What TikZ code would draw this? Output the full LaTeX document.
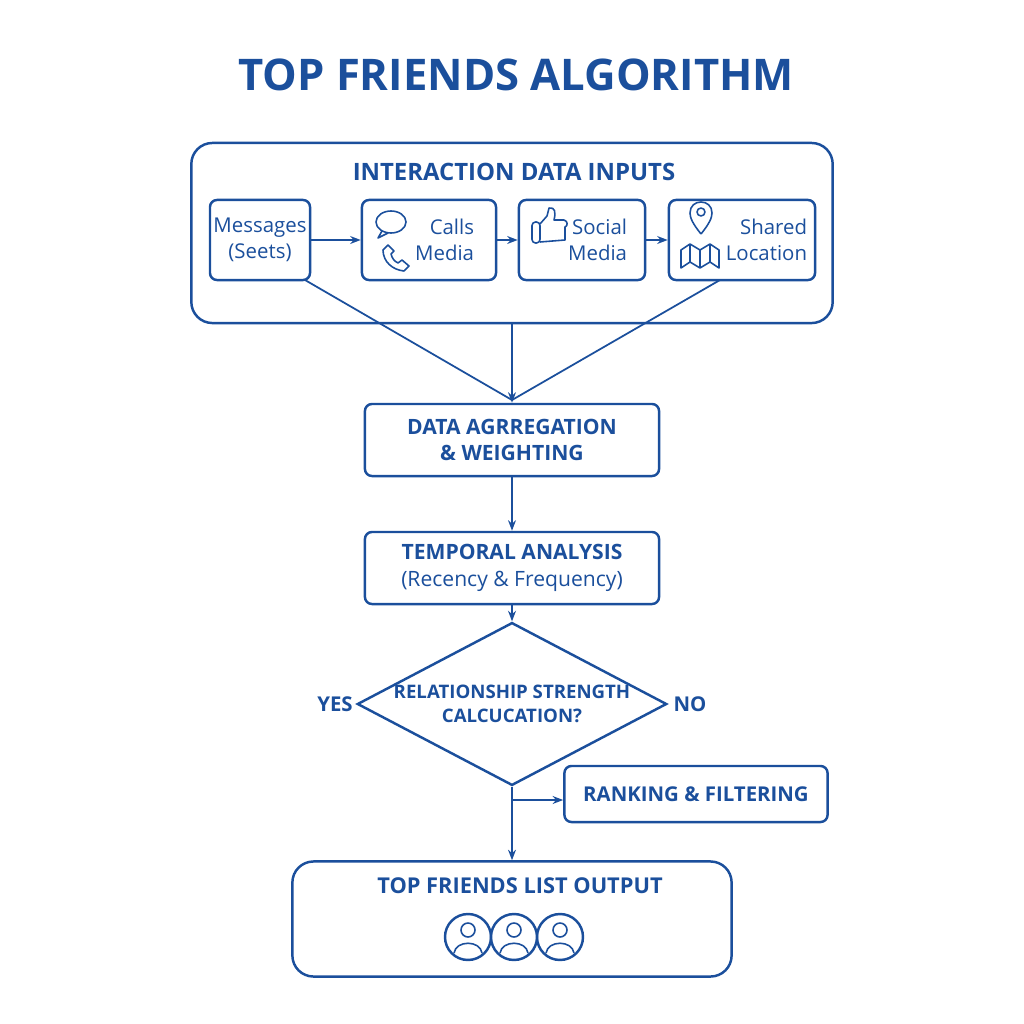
\documentclass[tikz,border=0pt]{standalone}
\usepackage{fontspec}
\setmainfont{Open Sans}
\usetikzlibrary{positioning,shapes.geometric,arrows.meta}
\definecolor{fbblue}{HTML}{1B4F9C}
\tikzset{
  box/.style={draw=fbblue, line width=0.7pt, rounded corners=2pt, text=fbblue, align=center, font=\fontsize{5.8}{7.5}\selectfont},
  flowstep/.style={box, minimum width=2.94cm, minimum height=0.72cm, font=\bfseries\fontsize{6}{7.5}\selectfont},
  link/.style={draw=fbblue, line width=0.5pt, -{Stealth[length=3pt]}},
  icon/.style={draw=fbblue, line width=0.45pt, line join=round}
}
\begin{document}
\begin{tikzpicture}[x=0.01cm,y=-0.01cm]
\useasboundingbox (0,0) rectangle (1024,1024);
\node[text=fbblue, font=\bfseries\fontsize{12.4}{15}\selectfont] (title) at (516,75) {TOP FRIENDS ALGORITHM};
% inputs
\node[box, rounded corners=6pt, minimum width=6.41cm, minimum height=1.8cm] (inputs) at (512,233) {};
\node[text=fbblue, font=\bfseries\fontsize{6.8}{8}\selectfont] (intitle) at (514,172) {INTERACTION DATA INPUTS};
\node[box, inner xsep=1pt, minimum width=0.96cm, minimum height=0.8cm] (msg) at (260,240) {Messages\\(Seets)};
\node[box, minimum width=1.34cm, minimum height=0.8cm, text width=0.9cm, align=right] (calls) at (429,240) {Calls\\Media};
\node[box, minimum width=1.26cm, minimum height=0.8cm, text width=0.9cm, align=right] (social) at (582,240) {Social\\Media};
\node[box, inner xsep=0pt, minimum width=1.46cm, minimum height=0.8cm, text width=1.3cm, align=right] (shared) at (742,240) {Shared\\Location};
\draw[link] (msg) -- (calls);
\draw[link] (calls) -- (social);
\draw[link] (social) -- (shared);
% icons
\draw[icon] (391,222) ellipse (15 and 11);
\draw[icon] (382,231) -- (378,238) -- (388,233);
\draw[icon] (388,245) -- (383,250) .. controls (383,262) and (393,270) .. (404,271) -- (409,266) -- (402,260) -- (398,263) .. controls (394,261) and (392,258) .. (391,254) -- (394,251) -- cycle;
\draw[icon, rounded corners=1pt] (532,222) rectangle (540,243);
\draw[icon] (540,224) -- (547,216) -- (549,208) .. controls (555,207) and (556,212) .. (554,220) -- (564,220) .. controls (568,221) and (568,226) .. (565,227) -- (565,240) -- (540,242);
\draw[icon] (701,212) circle (4);
\draw[icon] (701,234) .. controls (693,224) and (690,218) .. (690,213) .. controls (690,206) and (695,202) .. (701,202) .. controls (707,202) and (712,206) .. (712,213) .. controls (712,218) and (709,224) .. (701,234);
\draw[icon] (681,250) -- (690,244) -- (700,250) -- (710,244) -- (719,250) -- (719,268) -- (710,262) -- (700,268) -- (690,262) -- (681,268) -- cycle;
\draw[icon] (690,244) -- (690,262) (700,250) -- (700,268) (710,244) -- (710,262);
% flow
\node[flowstep] (agg) at (512,440) {DATA AGRREGATION\\\& WEIGHTING};
\node[flowstep, font=\fontsize{6}{7.5}\selectfont] (temp) at (512,568) {\textbf{TEMPORAL ANALYSIS}\\(Recency \& Frequency)};
\node[diamond, draw=fbblue, line width=0.7pt, aspect=1.9, minimum width=2.9cm, minimum height=1.54cm, inner sep=0pt, text=fbblue, align=center, font=\bfseries\fontsize{5.3}{7}\selectfont] (calc) at (512,704) {RELATIONSHIP STRENGTH\\CALCUCATION?};
\node[text=fbblue, font=\bfseries\fontsize{5.8}{7}\selectfont] (yes) at (335,704) {YES};
\node[text=fbblue, font=\bfseries\fontsize{5.8}{7}\selectfont] (no) at (690,704) {NO};
\node[flowstep, minimum width=2.63cm, minimum height=0.56cm, font=\bfseries\fontsize{5.8}{7}\selectfont] (rank) at (696,794) {RANKING \& FILTERING};
\node[box, rounded corners=6pt, minimum width=4.39cm, minimum height=1.15cm] (out) at (512,919) {};
\node[text=fbblue, font=\bfseries\fontsize{6.2}{7.5}\selectfont] (outtitle) at (520,886) {TOP FRIENDS LIST OUTPUT};
\foreach \x in {468,560,514}{
  \fill[white] (\x,937) circle (23);
  \draw[icon, line width=0.7pt] (\x,937) circle (23);
  \draw[icon] (\x,930) circle (7);
  \draw[icon] (\x-14,953) .. controls (\x-12,940) and (\x+12,940) .. (\x+14,953);
}
\coordinate (merge) at (512,400);
\draw[draw=fbblue, line width=0.5pt] (305,280) -- (merge) (720,280) -- (merge);
\draw[link] (inputs.south) -- (agg.north);
\draw[link] (agg) -- (temp);
\draw[link] (temp) -- (calc);
\draw[link] (calc.south) -- (out.north);
\coordinate (branch) at (512,800);
\draw[link] (branch) -- (rank.west |- branch);
\end{tikzpicture}
\end{document}
